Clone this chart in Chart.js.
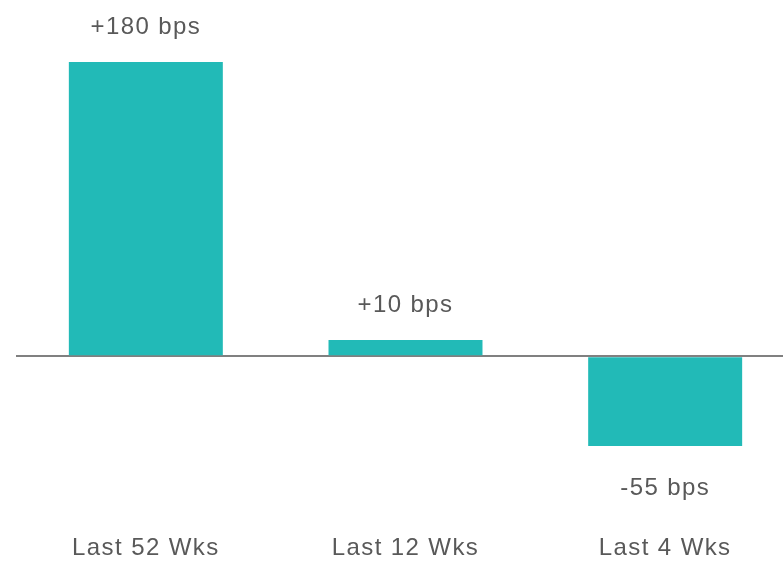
<!DOCTYPE html>
<html>
<head>
<meta charset="utf-8">
<script src="https://cdn.jsdelivr.net/npm/chart.js@4/dist/chart.umd.min.js"></script>
<style>
  html, body { margin: 0; padding: 0; background: #fff; overflow: hidden; }
  #wrap { width: 783px; height: 561px; overflow: hidden; }
</style>
</head>
<body>
<!-- canvas is a bit wider than the window: the plot area runs off the right edge in the source -->
<div id="wrap"><canvas id="myChart" width="795" height="561"></canvas></div>
<script>
const periods = ['Last 52 Wks', 'Last 12 Wks', 'Last 4 Wks'];
const changeBps = [180, 10, -55];
const valueLabels = ['+180 bps', '+10 bps', '-55 bps'];

const teal = '#22BAB7';
const textGray = '#595959';
const fontFamily = '"Liberation Sans", Arial, sans-serif';

document.addEventListener("DOMContentLoaded", function() {
    const ctx = document.getElementById('myChart').getContext('2d');

    // spread letters a bit, the source text is wider than plain Arial
    const spacing = {
        id: 'spacing',
        beforeDraw: (chart) => { chart.ctx.letterSpacing = '1.4px'; }
    };

    const barLabels = {
        id: 'barLabels',
        afterDatasetsDraw: (chart) => {
            const c = chart.ctx;
            const meta = chart.getDatasetMeta(0);
            c.save();
            c.font = '24px ' + fontFamily;
            c.fillStyle = textGray;
            c.textAlign = 'center';
            c.textBaseline = 'alphabetic';
            meta.data.forEach((bar, i) => {
                const v = changeBps[i];
                const y = v >= 0 ? bar.y - 28 : bar.y + 49;
                c.fillText(valueLabels[i], bar.x, y);
            });
            c.restore();
        }
    };

    new Chart(ctx, {
        type: 'bar',
        data: {
            labels: periods,
            datasets: [{
                data: changeBps,
                backgroundColor: teal,
                borderWidth: 0,
                barPercentage: 0.593,
                categoryPercentage: 1
            }]
        },
        options: {
            responsive: false,
            animation: false,
            layout: { padding: { left: 16, top: 0, right: 0, bottom: 0 } },
            plugins: {
                legend: { display: false },
                tooltip: { enabled: false }
            },
            scales: {
                x: {
                    grid: { display: false },
                    border: { display: false },
                    afterFit: (axis) => { axis.height = 43; },
                    ticks: {
                        color: textGray,
                        font: { family: fontFamily, size: 24 },
                        padding: 8,
                        maxRotation: 0
                    }
                },
                y: {
                    min: -99,
                    max: 218,
                    border: { display: false },
                    ticks: { display: false, stepSize: 1 },
                    grid: {
                        drawTicks: false,
                        color: (c) => c.tick && c.tick.value === 0 ? '#808080' : 'transparent',
                        lineWidth: (c) => c.tick && c.tick.value === 0 ? 2 : 0
                    }
                }
            }
        },
        plugins: [spacing, barLabels]
    });
});
</script>
</body>
</html>
